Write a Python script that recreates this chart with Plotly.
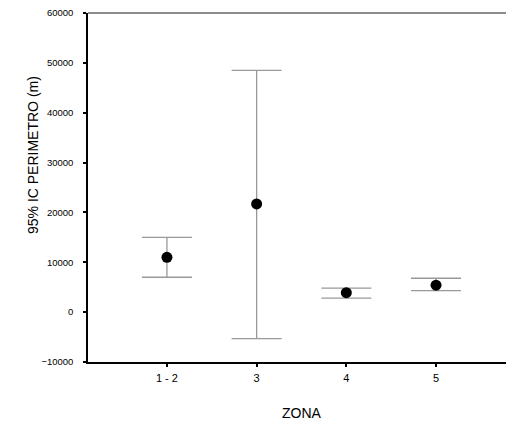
import plotly.graph_objects as go

zonas = ["1 - 2", "3", "4", "5"]
media = [11000, 21700, 3900, 5400]
ic_sup = [15000, 48500, 4800, 6800]
ic_inf = [7000, -5300, 2800, 4300]

err_up = [u - m for u, m in zip(ic_sup, media)]
err_dn = [m - l for m, l in zip(media, ic_inf)]

fig = go.Figure()
fig.add_trace(go.Scatter(
    x=zonas, y=media, mode="markers",
    marker=dict(color="black", size=11),
    error_y=dict(type="data", symmetric=False, array=err_up, arrayminus=err_dn,
                 color="#999999", thickness=1.3, width=25),
    showlegend=False, hoverinfo="skip",
))

font_family = "Liberation Sans, Arial, sans-serif"
fig.update_layout(
    width=506, height=426,
    margin=dict(l=88, r=0, t=13, b=64),
    paper_bgcolor="white", plot_bgcolor="white",
    font=dict(family=font_family, color="black"),
    xaxis=dict(
        type="category", range=[-0.88, 3.78], automargin=False,
        showline=True, linecolor="black", linewidth=1.5,
        ticks="outside", ticklen=3, tickwidth=2, tickcolor="black",
        tickfont=dict(size=11), showgrid=False, zeroline=False,
        ticklabelstandoff=2,
    ),
    yaxis=dict(
        range=[-10000, 60000], dtick=10000, tick0=0, tickformat="d",
        automargin=False,
        showline=True, linecolor="black", linewidth=1.5,
        ticks="outside", ticklen=3, tickwidth=2, tickcolor="black",
        tickfont=dict(size=9.5), showgrid=False, zeroline=False,
        ticklabelstandoff=8,
    ),
    shapes=[dict(type="line", xref="paper", yref="paper", x0=0, x1=1, y0=1, y1=1,
                 line=dict(color="#666666", width=1.5))],
    annotations=[
        dict(text="95% IC PERIMETRO (m)", xref="paper", yref="paper",
             x=-0.1316, y=0.593, xanchor="center", yanchor="middle",
             textangle=-90, showarrow=False, font=dict(size=14)),
        dict(text="ZONA", xref="paper", yref="paper",
             x=0.512, y=-0.146, xanchor="center", yanchor="middle",
             showarrow=False, font=dict(size=14)),
    ],
)

fig.write_html("out.html", config={"displayModeBar": False},
               post_script="document.body.style.margin='0';document.body.style.overflow='hidden';")
